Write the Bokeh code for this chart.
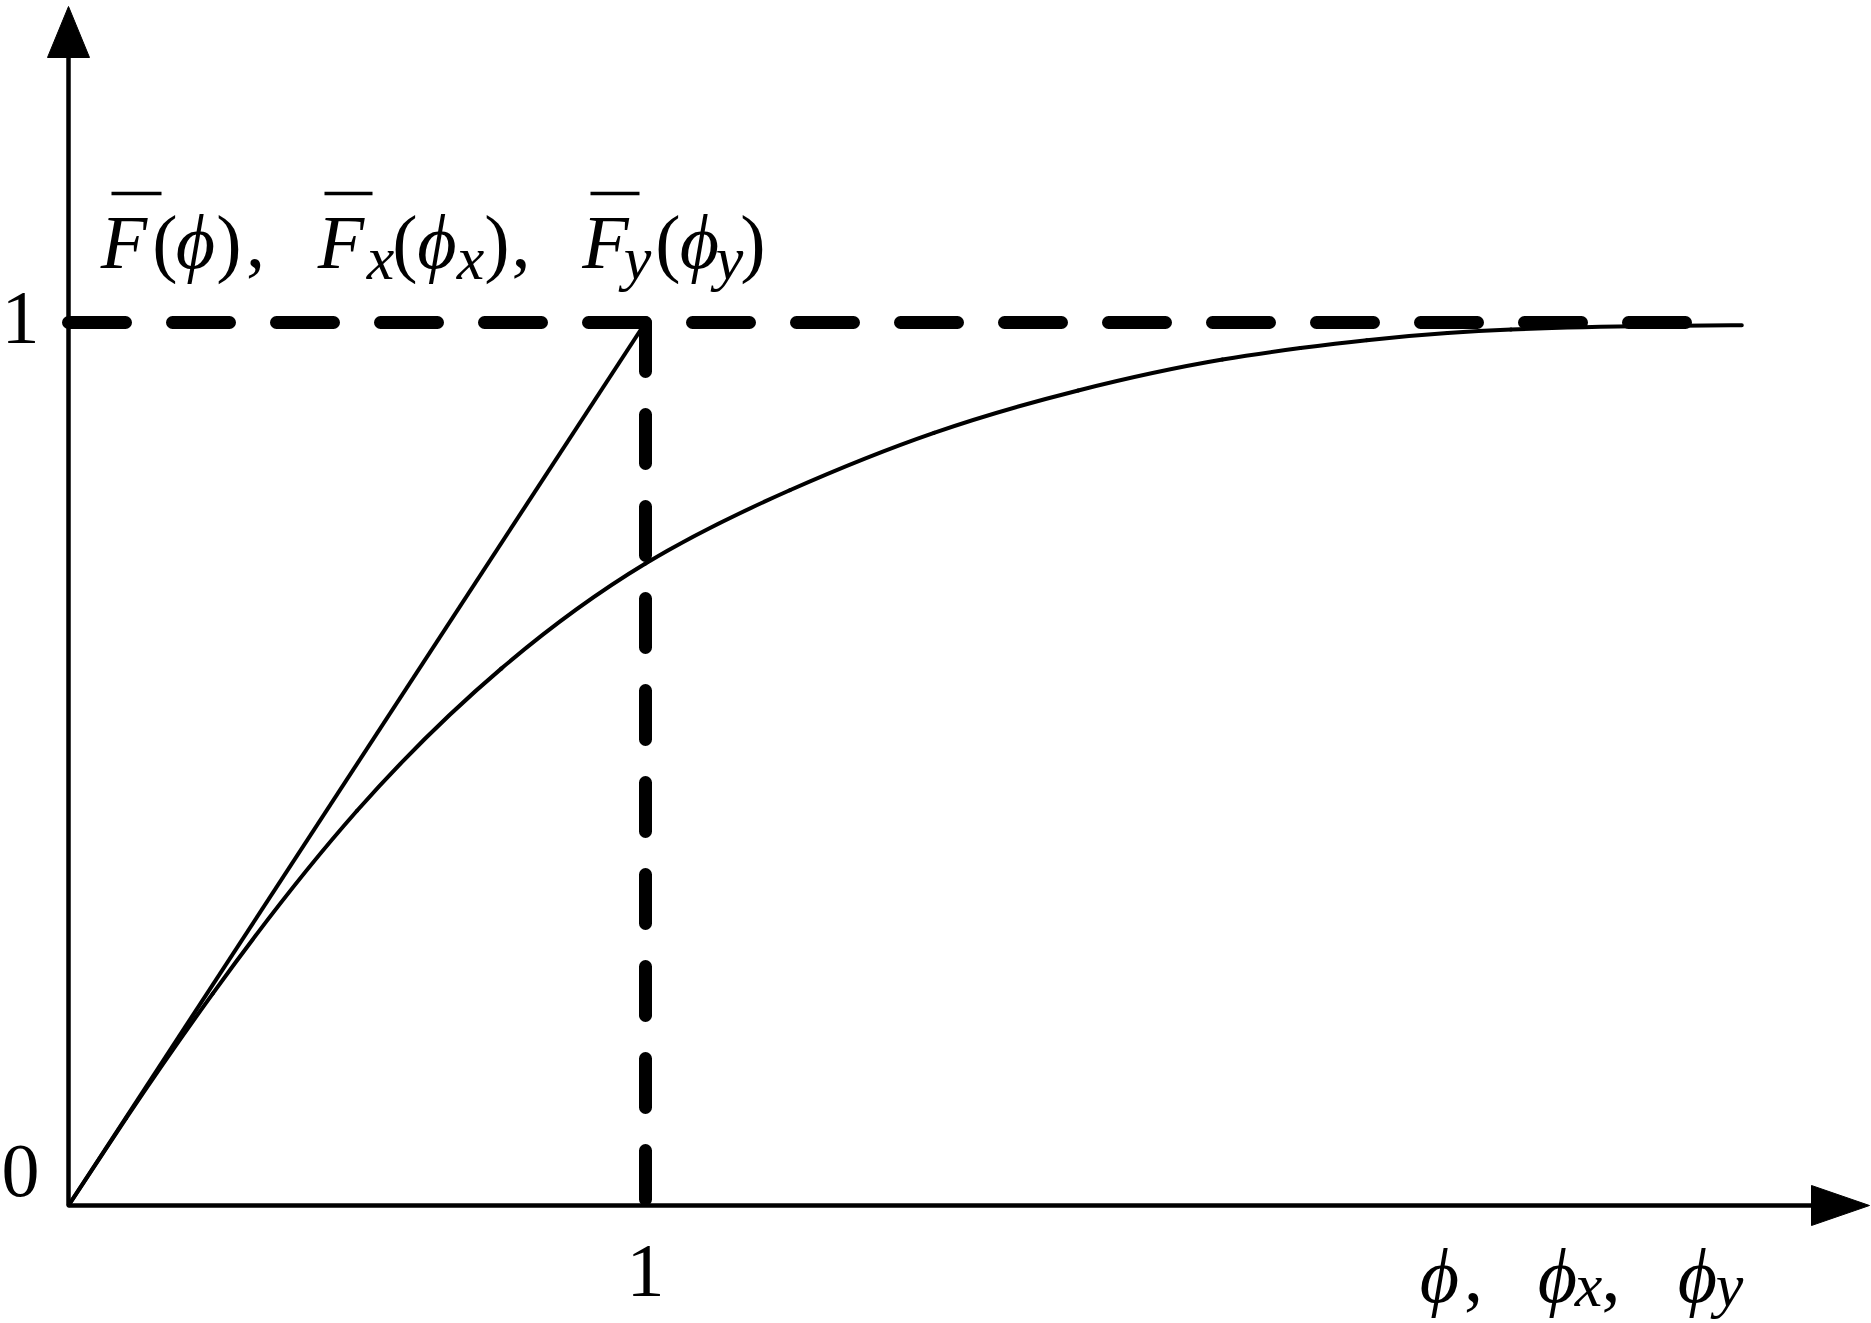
import numpy as np
from bokeh.plotting import figure
from bokeh.models import Range1d
from bokeh.embed import file_html
from bokeh.resources import INLINE
from bokeh.core.properties import value

# ---- data ----
phi_curve = [0.0, 0.1, 0.25, 0.5, 0.75, 1.0, 1.25, 1.5, 1.75, 2.0, 2.135, 2.25, 2.39, 2.5, 2.75, 2.9]
F_curve = [0.0, 0.099, 0.24, 0.447, 0.608, 0.727, 0.81, 0.875, 0.923, 0.958, 0.971, 0.98, 0.988, 0.992, 0.996, 0.997]
start_slope = 1.0         # curve is tangent to the straight line at the origin
phi_line = [0.0, 1.0]
F_line = [0.0, 1.0]
unit_level = 1.0          # horizontal dashed level F = 1
unit_phi = 1.0            # vertical dashed at phi = 1
hline_end = 2.815         # where the horizontal dashed line stops
x_ticks = [1.0]
x_tick_labels = ["1"]
y_ticks = [0.0, 1.0]
y_tick_labels = ["0", "1"]

# ---- layout (page pixels of the reference) ----
W, H = 1871, 1323
MARGIN = 0
ORIGIN_PX = (68.0, 1205.0)
UNIT_PX = (645.0, 322.0)
sx = UNIT_PX[0] - ORIGIN_PX[0]      # px per unit phi
sy = ORIGIN_PX[1] - UNIT_PX[1]      # px per unit F
X0 = -(ORIGIN_PX[0] - MARGIN) / sx
X1 = X0 + W / sx
Y1 = (ORIGIN_PX[1] - MARGIN) / sy
Y0 = Y1 - H / sy
TXT_DY = -25   # correction between requested and drawn text baseline


def px(xp):
    return X0 + (xp - MARGIN) / sx


def py(yp):
    return Y1 - (yp - MARGIN) / sy


def pyt(yp):
    return py(yp + TXT_DY)


p = figure(width=W, height=H, x_range=Range1d(X0, X1), y_range=Range1d(Y0, Y1),
           output_backend="svg", toolbar_location=None, min_border=0,
           x_axis_location=None, y_axis_location=None,
           outline_line_color=None, background_fill_color="white",
           border_fill_color="white")
p.grid.grid_line_color = None

FONT = value("Liberation Serif")
BLACK = "black"

# ---- axes with arrow heads ----
ax_lw = 4.5
y_tip, y_base, y_hw = py(6), py(57), 21 / sx
x_tip, x_base, x_hh = px(1869), px(1811), 20 / sy
p.line([0, 0], [0, y_base], line_width=ax_lw, color=BLACK)
p.line([0, x_base], [0, 0], line_width=ax_lw, color=BLACK)
p.patch([-y_hw, y_hw, 0], [y_base, y_base, y_tip], color=BLACK, line_width=1)
p.patch([x_base, x_base, x_tip], [-x_hh, x_hh, 0], color=BLACK, line_width=1)

# ---- straight line ----
p.line(phi_line, F_line, line_width=4, color=BLACK)

# ---- smooth curve: cubic spline through the read points, drawn as Bezier segments ----
xs = np.array(phi_curve, dtype=float)
ys = np.array(F_curve, dtype=float)
n = len(xs)
h = np.diff(xs)
d = np.diff(ys) / h
A = np.zeros((n, n))
b = np.zeros(n)
# clamped start (slope = start_slope), natural end
A[0, 0], A[0, 1] = 2 * h[0], h[0]
b[0] = 6 * (d[0] - start_slope)
for i in range(1, n - 1):
    A[i, i - 1] = h[i - 1]
    A[i, i] = 2 * (h[i - 1] + h[i])
    A[i, i + 1] = h[i]
    b[i] = 6 * (d[i] - d[i - 1])
A[n - 1, n - 1] = 1.0
M = np.linalg.solve(A, b)
m0 = d - h * (2 * M[:-1] + M[1:]) / 6     # slope at the left end of each segment
m1 = d + h * (M[:-1] + 2 * M[1:]) / 6     # slope at the right end of each segment
p.bezier(x0=xs[:-1], y0=ys[:-1], x1=xs[1:], y1=ys[1:],
         cx0=xs[:-1] + h / 3, cy0=ys[:-1] + m0 * h / 3,
         cx1=xs[1:] - h / 3, cy1=ys[1:] - m1 * h / 3,
         line_width=4, color=BLACK, line_cap="round")

# ---- dashed reference lines ----
p.line([0, hline_end], [unit_level, unit_level], line_width=13, line_dash="57 47",
       line_cap="round", color=BLACK)
p.line([unit_phi, unit_phi], [unit_level, 0], line_width=13, line_dash="49 43",
       line_cap="round", color=BLACK)

# ---- tick labels ----
p.text(x=x_ticks, y=[pyt(1295)], text=x_tick_labels, text_font=FONT,
       text_font_size="76px", text_align="center", text_baseline="alphabetic", color=BLACK)
p.text(x=[px(20), px(20)], y=[pyt(1195), pyt(342)], text=y_tick_labels, text_font=FONT,
       text_font_size="76px", text_align="center", text_baseline="alphabetic", color=BLACK)

# ---- y-axis title: F̄(ϕ), F̄x(ϕx), F̄y(ϕy) ----
PHI = "\u03d5"
yl_it_x = [123.5, 195, 340.5, 436.5, 605, 699]
yl_it_t = ["F", PHI, "F", PHI, "F", PHI]
yl_up_x = [164.5, 228.5, 255, 404.5, 496.5, 520.5, 667.5, 752.5]
yl_up_t = ["(", ")", ",", "(", ")", ",", "(", ")"]
yl_sub_x = [380, 470, 637, 729]
yl_sub_t = ["x", "x", "y", "y"]
p.text(x=[px(v) for v in yl_it_x], y=[pyt(266)] * len(yl_it_x), text=yl_it_t, text_font=FONT,
       text_font_size="76px", text_font_style="italic", text_align="center",
       text_baseline="alphabetic", color=BLACK)
p.text(x=[px(v) for v in yl_up_x], y=[pyt(266)] * len(yl_up_x), text=yl_up_t, text_font=FONT,
       text_font_size="76px", text_align="center", text_baseline="alphabetic", color=BLACK)
p.text(x=[px(v) for v in yl_sub_x], y=[pyt(282)] * len(yl_sub_x), text=yl_sub_t, text_font=FONT,
       text_font_size="62px", text_font_style="italic", text_align="center",
       text_baseline="alphabetic", color=BLACK)
bars = [(111, 161), (324, 372), (590, 639)]
p.segment(x0=[px(a) for a, b in bars], x1=[px(b) for a, b in bars],
          y0=[py(193)] * 3, y1=[py(193)] * 3, line_width=3.5, color=BLACK)

# ---- x-axis title: ϕ, ϕx, ϕy ----
xl_it_x = [1439, 1557, 1697]
xl_up_x = [1473, 1610.5]
xl_sub_x = [1588, 1729]
p.text(x=[px(v) for v in xl_it_x], y=[pyt(1300)] * 3, text=[PHI] * 3, text_font=FONT,
       text_font_size="76px", text_font_style="italic", text_align="center",
       text_baseline="alphabetic", color=BLACK)
p.text(x=[px(v) for v in xl_up_x], y=[pyt(1300)] * 2, text=[",", ","], text_font=FONT,
       text_font_size="76px", text_align="center", text_baseline="alphabetic", color=BLACK)
p.text(x=[px(v) for v in xl_sub_x], y=[pyt(1309)] * 2, text=["x", "y"], text_font=FONT,
       text_font_size="62px", text_font_style="italic", text_align="center",
       text_baseline="alphabetic", color=BLACK)

open("out.html", "w").write(file_html(p, INLINE))
